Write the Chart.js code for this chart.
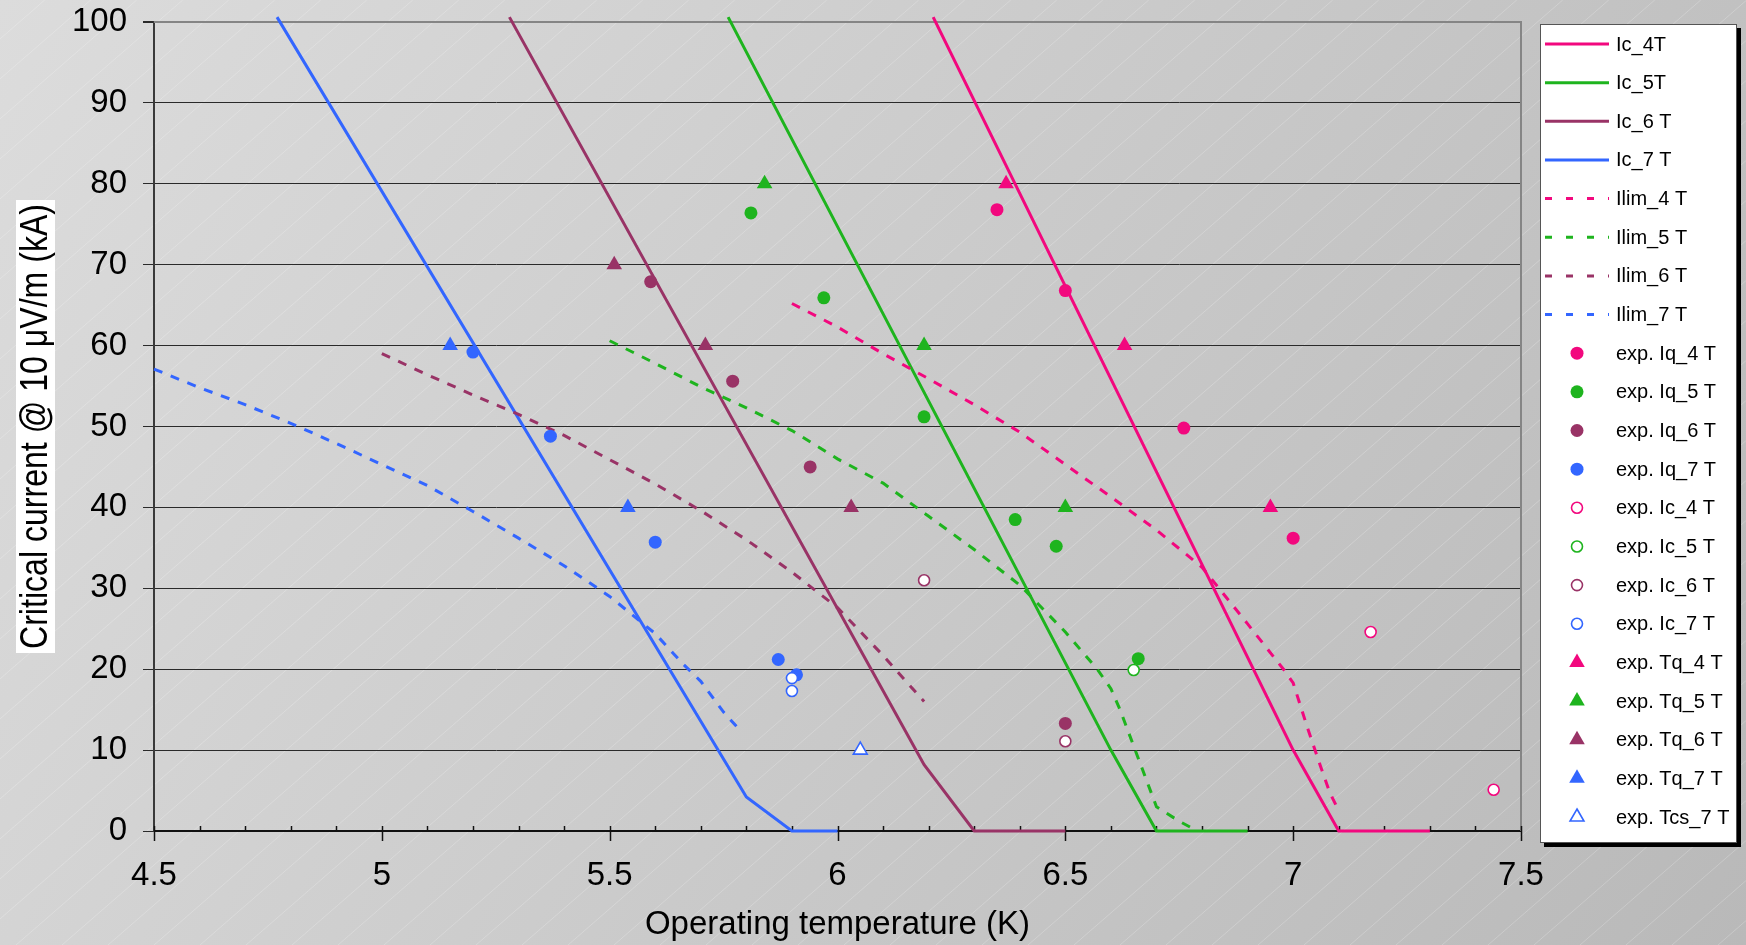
<!DOCTYPE html>
<html>
<head>
<meta charset="utf-8">
<title>Critical current vs operating temperature</title>
<script src="https://cdn.jsdelivr.net/npm/chart.js@4.4.1/dist/chart.umd.min.js"></script>
<style>
    html, body { margin: 0; padding: 0; background: #cfcfcf; }
    #wrap { width: 1746px; height: 945px; }
</style>
</head>
<body>
<div id="wrap"><canvas id="myChart" width="1746" height="945"></canvas></div>
<script>
// colours of the four fields
var pink = '#f2087e';
var green = '#1eb41e';
var plum = '#993366';
var blue = '#3366ff';

// computed curves, [T (K), I (kA)]
var ic_4T = [[6.21, 100.6], [7.0, 10], [7.1, 0], [7.3, 0]];
var ic_5T = [[5.76, 100.6], [6.6, 10], [6.7, 0], [6.9, 0]];
var ic_6T = [[5.28, 100.6], [6.19, 8.2], [6.3, 0], [6.5, 0]];
var ic_7T = [[4.77, 100.6], [5.8, 4.2], [5.9, 0], [6.0, 0]];

var ilim_4T = [[5.9, 65.2], [6.0, 62.3], [6.1, 59.0], [6.2, 55.9], [6.3, 52.7], [6.4, 49.3], [6.5, 45.3], [6.6, 41.3],
    [6.7, 37.2], [6.8, 32.6], [6.9, 25.6], [6.98, 19.9], [7.0, 18.3], [7.03, 13.0], [7.06, 8.0], [7.08, 4.8], [7.1, 2.5]];
var ilim_5T = [[5.5, 60.6], [5.6, 57.8], [5.7, 54.9], [5.8, 52.3], [5.9, 49.5], [6.0, 46.0], [6.1, 43.0], [6.2, 38.9],
    [6.3, 34.8], [6.4, 30.4], [6.5, 24.6], [6.57, 20.0], [6.6, 17.6], [6.62, 15.0], [6.66, 9.0], [6.69, 4.5], [6.7, 3.0],
    [6.75, 1.2], [6.79, 0]];
var ilim_6T = [[5.0, 59.0], [5.1, 56.4], [5.2, 53.9], [5.3, 51.5], [5.4, 48.9], [5.5, 45.9], [5.6, 42.9], [5.7, 39.6],
    [5.8, 36.0], [5.9, 32.0], [6.0, 27.6], [6.1, 21.7], [6.19, 16.0]];
var ilim_7T = [[4.5, 57.1], [4.6, 54.8], [4.7, 52.7], [4.8, 50.4], [4.9, 47.9], [5.0, 45.3], [5.1, 42.7], [5.2, 39.5],
    [5.3, 36.2], [5.4, 32.8], [5.5, 29.0], [5.6, 24.4], [5.66, 20.7], [5.7, 18.5], [5.75, 14.7], [5.79, 12.2]];

// measurements
var expIq_4T = [[6.35, 76.8], [6.5, 66.8], [6.76, 49.8], [7.0, 36.2]];
var expIq_5T = [[5.81, 76.4], [5.97, 65.9], [6.19, 51.2], [6.39, 38.5], [6.48, 35.2], [6.66, 21.3]];
var expIq_6T = [[5.59, 67.9], [5.77, 55.6], [5.94, 45.0], [6.5, 13.3]];
var expIq_7T = [[5.2, 59.2], [5.37, 48.8], [5.6, 35.7], [5.87, 21.2], [5.91, 19.3]];
var expIc_4T = [[7.17, 24.6], [7.44, 5.1]];
var expIc_5T = [[6.65, 19.9]];
var expIc_6T = [[6.19, 31.0], [6.5, 11.1]];
var expIc_7T = [[5.9, 18.9], [5.9, 17.3]];
var expTq_4T = [[6.37, 80], [6.63, 60], [6.95, 40]];
var expTq_5T = [[5.84, 80], [6.19, 60], [6.5, 40]];
var expTq_6T = [[5.51, 70], [5.71, 60], [6.03, 40]];
var expTq_7T = [[5.15, 60], [5.54, 40]];
var expTcs_7T = [[6.05, 10]];

var xTitle = 'Operating temperature (K)';
var yTitle = 'Critical current @ 10 \u03bcV/m (kA)';

Chart.defaults.font.family = "'Liberation Sans', Arial, sans-serif";
Chart.defaults.color = '#000';

function toXY(arr) {
    return arr.map(function (p) { return {x: p[0], y: p[1]}; });
}

function lineSet(label, arr, color, dashed) {
    return {
        label: label,
        data: toXY(arr),
        showLine: true,
        borderColor: color,
        backgroundColor: color,
        borderWidth: 3,
        borderDash: dashed ? [9, 9] : [],
        pointRadius: 0,
        clip: 10,
        legendDash: dashed ? [7, 14] : []
    };
}

function pointSet(label, arr, color, shape, open) {
    return {
        label: label,
        data: toXY(arr),
        showLine: false,
        pointStyle: shape,
        pointRadius: shape == 'triangle' ? (open ? 8 : 9) : (open ? 5.5 : 6.5),
        pointBackgroundColor: open ? '#ffffff' : color,
        pointBorderColor: color,
        pointBorderWidth: open ? 1.6 : 0,
        borderColor: color,
        backgroundColor: color
    };
}

var datasets = [
    lineSet('Ic_4T', ic_4T, pink, false),
    lineSet('Ic_5T', ic_5T, green, false),
    lineSet('Ic_6 T', ic_6T, plum, false),
    lineSet('Ic_7 T', ic_7T, blue, false),
    lineSet('Ilim_4 T', ilim_4T, pink, true),
    lineSet('Ilim_5 T', ilim_5T, green, true),
    lineSet('Ilim_6 T', ilim_6T, plum, true),
    lineSet('Ilim_7 T', ilim_7T, blue, true),
    pointSet('exp. Iq_4 T', expIq_4T, pink, 'circle', false),
    pointSet('exp. Iq_5 T', expIq_5T, green, 'circle', false),
    pointSet('exp. Iq_6 T', expIq_6T, plum, 'circle', false),
    pointSet('exp. Iq_7 T', expIq_7T, blue, 'circle', false),
    pointSet('exp. Ic_4 T', expIc_4T, pink, 'circle', true),
    pointSet('exp. Ic_5 T', expIc_5T, green, 'circle', true),
    pointSet('exp. Ic_6 T', expIc_6T, plum, 'circle', true),
    pointSet('exp. Ic_7 T', expIc_7T, blue, 'circle', true),
    pointSet('exp. Tq_4 T', expTq_4T, pink, 'triangle', false),
    pointSet('exp. Tq_5 T', expTq_5T, green, 'triangle', false),
    pointSet('exp. Tq_6 T', expTq_6T, plum, 'triangle', false),
    pointSet('exp. Tq_7 T', expTq_7T, blue, 'triangle', false),
    pointSet('exp. Tcs_7 T', expTcs_7T, blue, 'triangle', true)
];
// later series are painted on top, like the spreadsheet did
datasets.forEach(function (ds, i) { ds.order = 100 - i; });

// grey gradient with faint diagonal streaks
var background = {
    id: 'background',
    beforeDraw: function (chart) {
        var ctx = chart.ctx;
        var w = chart.width, h = chart.height;
        ctx.save();
        var g = ctx.createLinearGradient(0, 0, w, h);
        g.addColorStop(0, '#dcdcdc');
        g.addColorStop(1, '#b9b9b9');
        ctx.fillStyle = g;
        ctx.fillRect(0, 0, w, h);
        ctx.strokeStyle = 'rgba(255,255,255,0.22)';
        ctx.lineWidth = 1;
        for (var k = -h * 1.2; k < w; k += 46) {
            ctx.beginPath();
            ctx.moveTo(k, h);
            ctx.lineTo(k + h * 1.15, 0);
            ctx.stroke();
        }
        ctx.restore();
    }
};

// plot frame and the x tick marks (major every 0.5, minor every 0.1)
var frame = {
    id: 'frame',
    beforeDatasetsDraw: function (chart) {
        var ctx = chart.ctx;
        var ca = chart.chartArea;
        var xs = chart.scales.x;
        ctx.save();
        ctx.strokeStyle = '#858585';
        ctx.lineWidth = 2;
        ctx.beginPath();
        ctx.moveTo(ca.left, ca.top);
        ctx.lineTo(ca.right, ca.top);
        ctx.lineTo(ca.right, ca.bottom);
        ctx.stroke();
        ctx.strokeStyle = '#111';
        ctx.lineWidth = 1.5;
        for (var i = 0; i <= 30; i++) {
            var px = Math.round(xs.getPixelForValue(4.5 + i * 0.1)) + 0.5;
            ctx.beginPath();
            ctx.moveTo(px, ca.bottom - 5);
            ctx.lineTo(px, ca.bottom + (i % 5 == 0 ? 10 : 0));
            ctx.stroke();
        }
        ctx.restore();
    }
};

// y title with its white patch, and the boxed legend on the right
var decorations = {
    id: 'decorations',
    afterDraw: function (chart) {
        var ctx = chart.ctx;
        var ca = chart.chartArea;
        ctx.save();
        ctx.translate(35, (ca.top + ca.bottom) / 2);
        ctx.rotate(-Math.PI / 2);
        ctx.font = "38px 'Liberation Sans', Arial, sans-serif";
        var tw = ctx.measureText(yTitle).width;
        var sx = 445 / tw;
        ctx.fillStyle = '#ffffff';
        ctx.fillRect(-tw * sx / 2 - 4, -19, tw * sx + 8, 39);
        ctx.scale(sx, 1);
        ctx.fillStyle = '#000';
        ctx.textAlign = 'center';
        ctx.textBaseline = 'alphabetic';
        ctx.fillText(yTitle, 0, 12);
        ctx.restore();

        var L = 1540, T = 24, W = 197, H = 819;
        ctx.save();
        ctx.fillStyle = '#000';
        ctx.fillRect(L + 4, T + 4, W, H);
        ctx.fillStyle = '#fff';
        ctx.fillRect(L, T, W, H);
        ctx.strokeStyle = '#555';
        ctx.lineWidth = 1;
        ctx.strokeRect(L + 0.5, T + 0.5, W - 1, H - 1);
        ctx.font = "20px 'Liberation Sans', Arial, sans-serif";
        ctx.textBaseline = 'middle';
        chart.data.datasets.forEach(function (ds, i) {
            var y = 44 + i * 38.65;
            if (ds.showLine) {
                ctx.strokeStyle = ds.borderColor;
                ctx.lineWidth = 3;
                ctx.setLineDash(ds.legendDash);
                ctx.beginPath();
                ctx.moveTo(1545, y);
                ctx.lineTo(1609, y);
                ctx.stroke();
                ctx.setLineDash([]);
            } else {
                var r = ds.pointRadius;
                var cx = 1577;
                ctx.beginPath();
                if (ds.pointStyle == 'circle') {
                    ctx.arc(cx, y, r, 0, Math.PI * 2);
                } else {
                    ctx.moveTo(cx, y - r);
                    ctx.lineTo(cx + r * 0.866, y + r / 2);
                    ctx.lineTo(cx - r * 0.866, y + r / 2);
                    ctx.closePath();
                }
                ctx.fillStyle = ds.pointBackgroundColor;
                ctx.fill();
                if (ds.pointBorderWidth > 0) {
                    ctx.strokeStyle = ds.pointBorderColor;
                    ctx.lineWidth = ds.pointBorderWidth;
                    ctx.stroke();
                }
            }
            ctx.fillStyle = '#000';
            ctx.fillText(ds.label, 1616, y + 1);
        });
        ctx.restore();
    }
};

var ctx = document.getElementById('myChart').getContext('2d');
var chart = new Chart(ctx, {
    type: 'scatter',
    data: {datasets: datasets},
    options: {
        responsive: false,
        devicePixelRatio: 1,
        animation: false,
        layout: {padding: {top: 22, right: 225, bottom: 0, left: 0}},
        plugins: {
            legend: {display: false},
            tooltip: {enabled: false}
        },
        scales: {
            x: {
                type: 'linear',
                min: 4.5,
                max: 7.5,
                afterFit: function (scale) { scale.height = 114; },
                ticks: {
                    stepSize: 0.5,
                    padding: 15,
                    font: {size: 33},
                    color: '#000',
                    callback: function (v) { return String(v); }
                },
                grid: {drawOnChartArea: false, drawTicks: true, tickLength: 10, tickColor: 'rgba(0,0,0,0)'},
                border: {display: true, color: '#111', width: 2},
                title: {display: true, text: xTitle, font: {size: 33}, color: '#000', padding: {top: 0, bottom: 0}}
            },
            y: {
                type: 'linear',
                min: 0,
                max: 100,
                afterFit: function (scale) {
                    scale.width = 154;
                    // keep the plot top where the layout padding puts it
                    scale.paddingTop = 0;
                    scale.paddingBottom = 0;
                },
                ticks: {
                    stepSize: 10,
                    padding: 16,
                    font: {size: 33},
                    color: '#000',
                    callback: function (v) { return String(v); }
                },
                grid: {
                    color: function (c) { return c.tick && c.tick.value == 100 ? '#858585' : '#2a2a2a'; },
                    lineWidth: function (c) { return c.tick && c.tick.value == 100 ? 2 : 1; },
                    tickLength: 11,
                    tickColor: '#2a2a2a'
                },
                border: {display: true, color: '#3a3a3a', width: 2}
            }
        }
    },
    plugins: [background, frame, decorations]
});
</script>
</body>
</html>
